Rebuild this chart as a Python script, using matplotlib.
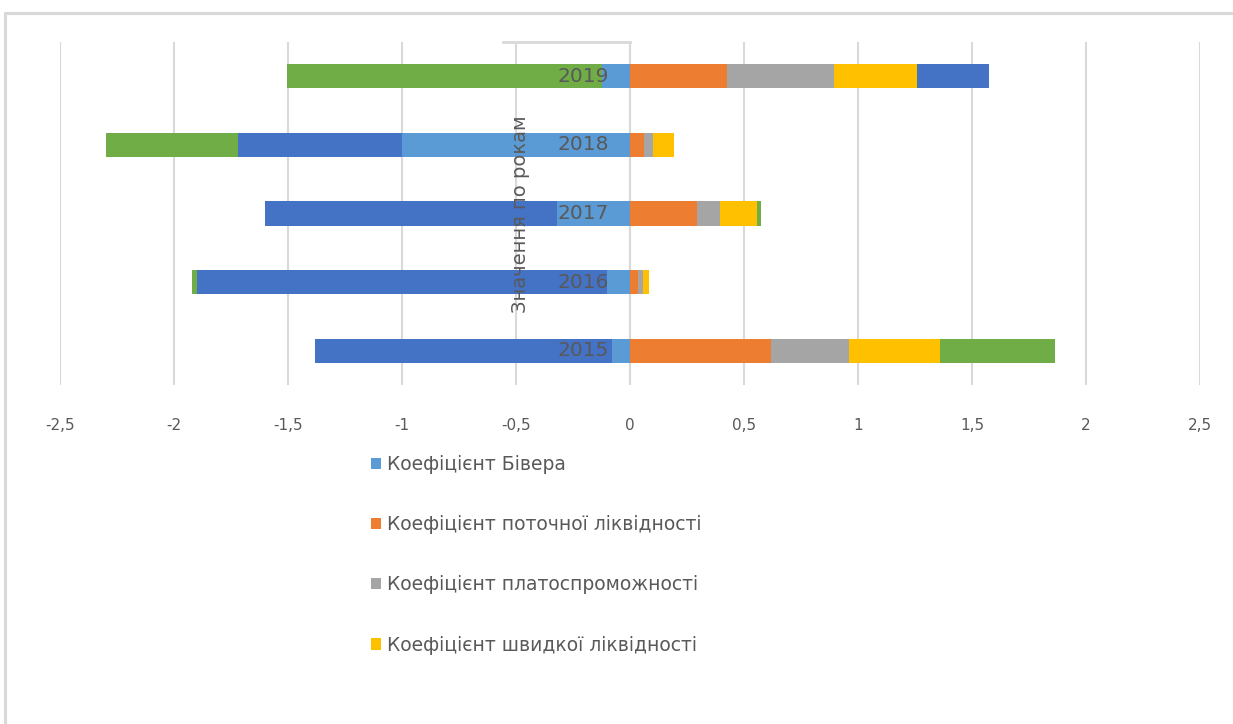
import numpy as np
import matplotlib
matplotlib.use("Agg")
from matplotlib import pyplot as plt
from matplotlib.patches import Patch, Rectangle
from matplotlib.lines import Line2D
from matplotlib.ticker import FuncFormatter

years = ["2015", "2016", "2017", "2018", "2019"]
series_names = ["Коефіцієнт Бівера",
                "Коефіцієнт поточної ліквідності",
                "Коефіцієнт платоспроможності",
                "Коефіцієнт швидкої ліквідності",
                "Коефіцієнт 5",
                "Коефіцієнт 6"]
beaver = [-0.08, -0.10, -0.32, -1.00, -0.125]
current_liq = [0.62, 0.034, 0.294, 0.06, 0.424]
solvency = [0.34, 0.023, 0.101, 0.04, 0.469]
quick_liq = [0.40, 0.026, 0.162, 0.092, 0.364]
coef5 = [-1.30, -1.80, -1.28, -0.718, 0.316]
coef6 = [0.504, -0.021, 0.018, -0.579, -1.38]
colors = ["#5B9BD5", "#ED7D31", "#A5A5A5", "#FFC000", "#4472C4", "#70AD47"]

W, H = 1233, 724
fig = plt.figure(figsize=(W / 100, H / 100), dpi=100)
fig.patch.set_facecolor("white")

# outer chart frame (only top and left visible)
fig.add_artist(Rectangle((5 / W, -0.05), 1.1, 1 - 13 / H + 0.05,
                         transform=fig.transFigure, fill=False,
                         edgecolor="#D9D9D9", linewidth=2.2))

left, right, top, bottom = 60, 1200, 42, 385
ax = fig.add_axes([left / W, 1 - bottom / H, (right - left) / W, (bottom - top) / H])

y = np.arange(len(years))
pos = np.zeros(len(years))
neg = np.zeros(len(years))
data = [beaver, current_liq, solvency, quick_liq, coef5, coef6]
for vals, c, name in zip(data, colors, series_names):
    vals = np.array(vals)
    base = np.where(vals >= 0, pos, neg)
    ax.barh(y, vals, left=base, height=0.35, color=c, label=name, zorder=2)
    pos = pos + np.where(vals >= 0, vals, 0)
    neg = neg + np.where(vals < 0, vals, 0)

ax.set_xlim(-2.5, 2.5)
ax.set_ylim(-0.5, 4.5)
ax.set_xticks(np.arange(-2.5, 2.51, 0.5))
ax.xaxis.set_major_formatter(FuncFormatter(lambda v, p: ("%g" % v).replace(".", ",")))
ax.tick_params(axis="x", length=0, pad=24, labelsize=11, labelcolor="#595959")
ax.set_yticks([])
ax.grid(axis="x", color="#D9D9D9", linewidth=1.5, zorder=0)
ax.axvline(0, color="#D9D9D9", linewidth=1.5, zorder=1)
for s in ax.spines.values():
    s.set_visible(False)

for i, yr in enumerate(years):
    ax.annotate(yr, (0, i), xytext=(-15, 0), textcoords="offset points",
                ha="right", va="center", fontsize=14.5, color="#595959", zorder=5)

# axis title
fig.text(520 / W, 1 - 214 / H, "Значення по рокам", rotation=90,
         ha="center", va="center", fontsize=14, color="#595959")
fig.add_artist(Line2D([503 / W, 630 / W], [1 - 42 / H, 1 - 42 / H],
                      transform=fig.transFigure, color="#D9D9D9", linewidth=2))

handles = [Patch(facecolor=c) for c in colors[:4]]
fig.legend(handles, series_names[:4], loc="upper left",
           bbox_to_anchor=(354 / W, 1 - 438 / H), frameon=False,
           fontsize=13.5, labelcolor="#595959", handlelength=0.55,
           handleheight=0.55, handletextpad=0.3, labelspacing=2.2)

fig.savefig("out.png", dpi=100, facecolor=fig.get_facecolor())
